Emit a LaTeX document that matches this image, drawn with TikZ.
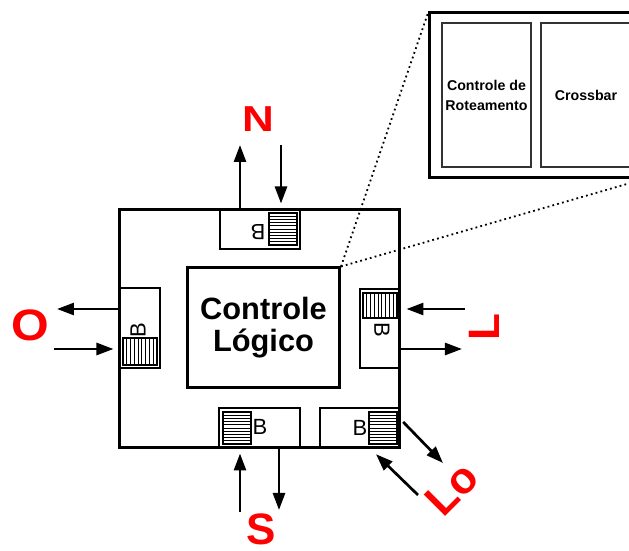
\documentclass[tikz,border=0pt]{standalone}
\usepackage{fontspec}
\setmainfont{Liberation Sans}
\usetikzlibrary{arrows.meta,calc}

\begin{document}
\begin{tikzpicture}[
    x=0.5pt, y=-0.5pt,
    frame/.style={draw, line width=1.5pt, inner sep=0pt},
    buf/.style={draw, line width=1.2pt, inner sep=0pt},
    part/.style={draw=black!80, line width=0.7pt, inner sep=0pt, align=center,
      font=\fontsize{7.1}{10}\selectfont\bfseries},
    hatchh/.style={draw, line width=0.6pt, inner sep=0pt, path picture={
      \foreach \k in {1,...,9}
        \draw[line width=0.45pt]
          ($(path picture bounding box.south west)!\k/10!(path picture bounding box.north west)$) --
          ($(path picture bounding box.south east)!\k/10!(path picture bounding box.north east)$);}},
    hatchv/.style={draw, line width=0.6pt, inner sep=0pt, path picture={
      \foreach \k in {1,...,8}
        \draw[line width=0.45pt]
          ($(path picture bounding box.south west)!\k/9!(path picture bounding box.south east)$) --
          ($(path picture bounding box.north west)!\k/9!(path picture bounding box.north east)$);}},
    blbl/.style={inner sep=0pt, font=\fontsize{11}{11}\selectfont},
    port/.style={inner sep=0pt, text=red, font=\fontsize{22}{22}\selectfont\bfseries},
    link/.style={-{Triangle[length=8.5pt,width=6pt]}, line width=1.35pt},
    zoomline/.style={line width=0.9pt, dash pattern=on 0.9pt off 1.6pt}
  ]
  \clip (0,0) rectangle (629,551);

  % router and its logic block
  \node[frame, minimum width=140pt, minimum height=119pt] (router) at (260,329) {};
  \node[frame, minimum width=76pt, minimum height=60pt, align=center,
    font=\fontsize{15.4}{16}\selectfont\bfseries] (logic) at (263.5,328) {Controle\\Lógico};

  % buffers
  \node[buf, minimum width=40pt, minimum height=19.5pt] (bufN) at (260,229.5) {};
  \node[hatchh, minimum width=14pt, minimum height=16pt] (hatchN) at (283,229) {};
  \node[blbl, rotate=180] (bN) at (258,232) {B};

  \node[buf, minimum width=40.5pt, minimum height=20pt] (bufS) at (259.5,428) {};
  \node[hatchh, minimum width=14pt, minimum height=16pt] (hatchS) at (237,428) {};
  \node[blbl] (bS) at (260,427) {B};

  \node[buf, minimum width=40pt, minimum height=20pt] (bufSE) at (360,428) {};
  \node[hatchh, minimum width=14pt, minimum height=16pt] (hatchSE) at (383,428) {};
  \node[blbl] (bSE) at (360,428) {B};

  \node[buf, minimum width=20pt, minimum height=40pt] (bufW) at (140,328) {};
  \node[hatchv, minimum width=17pt, minimum height=13.5pt] (hatchW) at (140,351.5) {};
  \node[blbl, rotate=90] (bW) at (138,330) {B};

  \node[buf, minimum width=19.5pt, minimum height=39.5pt] (bufE) at (379.5,328.5) {};
  \node[hatchv, minimum width=17pt, minimum height=12.5pt] (hatchE) at (380,305.5) {};
  \node[blbl, rotate=-90] (bE) at (382,330) {B};

  % ports
  \node[port, yscale=0.82] (pN) at (258,119.5) {N};
  \node[port] (pS) at (261.5,529.5) {S};
  \node[port, xscale=1.1] (pO) at (30,325.5) {O};
  \node[port, rotate=90] (pL) at (484,327.5) {L};
  \node[port, rotate=45] (pLo) at (452.4,489.4) {Lo};

  \coordinate (nUp) at (240,145);
  \coordinate (nDown) at (281,145);
  \coordinate (sUp) at (240,512);
  \coordinate (sDown) at (279,510);
  \coordinate (wOut) at (57,309);
  \coordinate (wIn) at (54,349);
  \coordinate (eIn) at (465,309);
  \coordinate (eOut) at (462,349);
  \coordinate (seOut) at (443,463);
  \coordinate (seIn) at (418,495);

  \draw[link] (router.north -| nUp) -- (nUp);
  \draw[link] (nDown) -- ([yshift=2.5pt]router.north -| nDown);
  \draw[link] (sUp) -- ([yshift=-2pt]router.south -| sUp);
  \draw[link] (router.south -| sDown) -- (sDown);
  \draw[link] (router.west |- wOut) -- (wOut);
  \draw[link] (wIn) -- ([xshift=-2.5pt]router.west |- wIn);
  \draw[link] (eIn) -- ([xshift=2.5pt]router.east |- eIn);
  \draw[link] (router.east |- eOut) -- (eOut);
  \draw[link] ($(bufSE.east)+(2,-6)$) -- (seOut);
  \draw[link] (seIn) -- ($(bufSE.south)+(16,5)$);

  % zoomed view
  \node[frame, minimum width=105.5pt, minimum height=82.5pt] (zoom) at (535.5,95.5) {};
  \node[part, minimum width=44.5pt, minimum height=72pt] (route) at (486.5,95) {Controle de\\Roteamento};
  \node[part, minimum width=45pt, minimum height=72pt] (xbar) at (586,95) {Crossbar};

  \draw[zoomline] (logic.north east) -- (zoom.north west);
  \draw[zoomline] (logic.north east) -- (zoom.south east);
\end{tikzpicture}
\end{document}
